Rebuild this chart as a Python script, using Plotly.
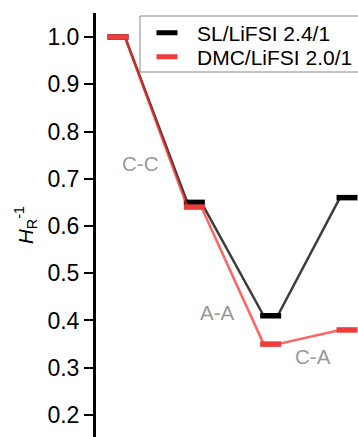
import plotly.graph_objects as go

# ---- data ----
levels = [1, 2, 3, 4]
sl_values = [1.0, 0.65, 0.41, 0.66]
dmc_values = [1.0, 0.64, 0.35, 0.38]
series_names = ["SL/LiFSI 2.4/1", "DMC/LiFSI 2.0/1"]
label_texts = ["C-C", "A-A", "C-A"]
label_x = [1.29, 2.30, 3.556]
label_y = [0.733, 0.416, 0.323]
y_ticks = [0.2, 0.3, 0.4, 0.5, 0.6, 0.7, 0.8, 0.9, 1.0]

W, H = 358, 437
ML, MR, MT, MB = 96, 0, 13, 0
PW, PH = W - ML - MR, H - MT - MB
xr = [0.7117, 4.144]
yr = [0.1534, 1.0508]
px_per_unit = PW / (xr[1] - xr[0])
hw = 7 / px_per_unit  # half width of level bars in data units

FONT = "Arial, Liberation Sans, sans-serif"


def px_x(p):  # pixel x -> paper
    return (p - ML) / PW


def px_y(p):  # pixel y -> paper
    return 1 - (p - MT) / PH


def connectors(vals):
    xs, ys = [], []
    for i in range(len(vals) - 1):
        xs += [levels[i] + hw, levels[i + 1] - hw, None]
        ys += [vals[i], vals[i + 1], None]
    return xs, ys


fig = go.Figure()

cx, cy = connectors(sl_values)
fig.add_trace(go.Scatter(x=cx, y=cy, mode="lines", showlegend=False,
                         line=dict(color="#3c3c3c", width=2.5), hoverinfo="skip"))
fig.add_trace(go.Scatter(x=levels, y=sl_values, mode="markers", name=series_names[0],
                         legend="legend",
                         marker=dict(symbol="line-ew", size=15,
                                     line=dict(color="#000000", width=5.5))))

cx, cy = connectors(dmc_values)
fig.add_trace(go.Scatter(x=cx, y=cy, mode="lines", showlegend=False,
                         line=dict(color="rgba(255,40,40,0.72)", width=2.5), hoverinfo="skip"))
fig.add_trace(go.Scatter(x=levels, y=dmc_values, mode="markers", name=series_names[1],
                         legend="legend2",
                         marker=dict(symbol="line-ew", size=15,
                                     line=dict(color="#ee3b3b", width=5.5))))

for t, x, y in zip(label_texts, label_x, label_y):
    fig.add_annotation(x=x, y=y, text=t, showarrow=False,
                       font=dict(family=FONT, size=20.5, color="#999999"))

# legend frame
fig.add_shape(type="rect", xref="paper", yref="paper",
              x0=px_x(140), x1=px_x(366), y0=px_y(72), y1=px_y(16),
              line=dict(color="#888888", width=1), fillcolor="white", layer="below")

leg_common = dict(xanchor="left", yanchor="middle", borderwidth=0,
                  itemwidth=50, bgcolor="rgba(0,0,0,0)",
                  font=dict(family=FONT, size=21, color="black"))

fig.update_layout(
    width=W, height=H,
    margin=dict(l=ML, r=MR, t=MT, b=MB, autoexpand=False),
    paper_bgcolor="white", plot_bgcolor="white",
    font=dict(family=FONT, color="black"),
    showlegend=True,
    legend=dict(x=px_x(137), y=px_y(33), **leg_common),
    legend2=dict(x=px_x(137), y=px_y(57), **leg_common),
    xaxis=dict(visible=False, range=xr),
    yaxis=dict(range=yr, tickvals=y_ticks, tickformat=".1f",
               ticks="outside", ticklen=9, tickwidth=2, tickcolor="black",
               showline=True, linewidth=3, linecolor="black",
               showgrid=False, zeroline=False,
               tickfont=dict(family=FONT, size=23, color="black"),
               title=dict(text="<i>H</i><sub>R</sub><sup>-1</sup>",
                          font=dict(family=FONT, size=20.5, color="black"),
                          standoff=9)),
)

fig.write_html(
    "out.html",
    config={"displayModeBar": False},
    post_script="document.body.style.margin='0';document.body.style.overflow='hidden';",
)
